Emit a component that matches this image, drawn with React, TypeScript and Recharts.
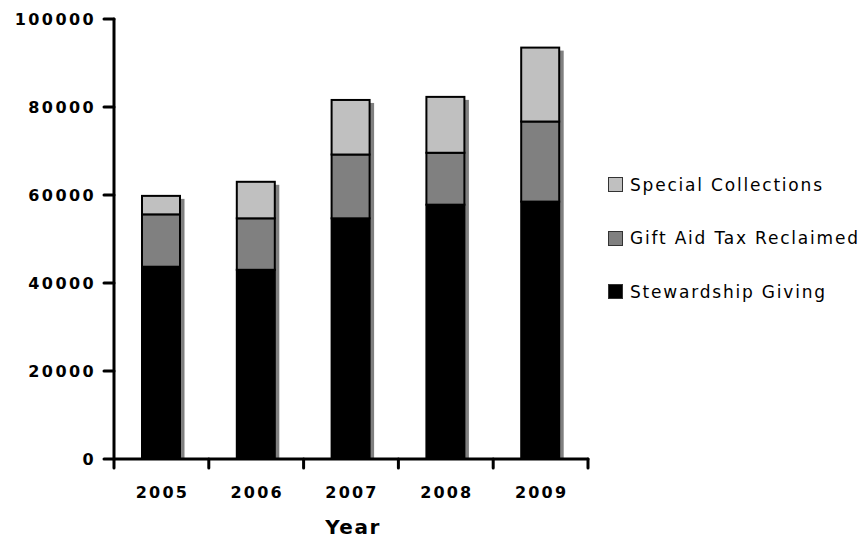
import React from 'react'
import { BarChart, Bar, XAxis, YAxis, Legend } from 'recharts'

// values
const years = ['2005', '2006', '2007', '2008', '2009']
const stewardship = [43700, 43000, 54700, 57800, 58500]
const giftAid = [11900, 11700, 14500, 11800, 18200]
const special = [4200, 8300, 12400, 12700, 16800]
const yTicks = [0, 20000, 40000, 60000, 80000, 100000]

const data = years.map((year, i) => ({
  year,
  stewardship: stewardship[i],
  giftAid: giftAid[i],
  special: special[i],
}))

const FONT = '"DejaVu Sans", Verdana, sans-serif'

const legendItems = [
  { name: 'Special Collections', color: '#c0c0c0' },
  { name: 'Gift Aid Tax Reclaimed', color: '#808080' },
  { name: 'Stewardship Giving', color: '#000000' },
]

// bottom segment also draws the drop shadow for the whole stack
const BottomShape = (props: any) => {
  const { x, y, width, height, payload } = props
  const total = payload.stewardship + payload.giftAid + payload.special
  const perUnit = height / payload.stewardship
  const totalH = total * perUnit
  const bottom = y + height
  return (
    <g>
      <rect x={x + 4.5} y={bottom - totalH + 3} width={width} height={totalH - 3} fill="#808080" />
      <rect x={x} y={y} width={width} height={height} fill="#000" stroke="#000" strokeWidth={2} />
    </g>
  )
}

const SegShape = (props: any) => {
  const { x, y, width, height, fill } = props
  return <rect x={x} y={y} width={width} height={height} fill={fill} stroke="#000" strokeWidth={2} />
}

const YTick = (props: any) => {
  const { x, y, payload } = props
  return (
    <text x={x} y={y} dy={6} textAnchor="end" fontFamily={FONT} fontWeight="bold" fontSize={16}
      letterSpacing={2.4} fill="#000">
      {payload.value}
    </text>
  )
}

// tick marks sit on the category boundaries, labels in the middle
const XTick = (props: any) => {
  const { x, y, payload, index } = props
  const half = payload.offset || 47.4
  const last = index === years.length - 1
  return (
    <g>
      <line x1={x - half} y1={y} x2={x - half} y2={y + 9} stroke="#000" strokeWidth={3} strokeLinecap="round" />
      {last && (
        <line x1={x + half} y1={y} x2={x + half} y2={y + 9} stroke="#000" strokeWidth={3} strokeLinecap="round" />
      )}
      <text x={x + 1} y={y + 39} textAnchor="middle" fontFamily={FONT} fontWeight="bold" fontSize={16}
        letterSpacing={2.2} fill="#000">
        {payload.value}
      </text>
    </g>
  )
}

const LegendContent = () => (
  <div style={{ fontFamily: FONT, fontSize: 17, letterSpacing: 1.8, color: '#000' }}>
    {legendItems.map((item) => (
      <div key={item.name} style={{ display: 'flex', alignItems: 'center', height: 53.5 }}>
        <span style={{ width: 13, height: 13, background: item.color, border: '1px solid #333',
          marginRight: 7, flexShrink: 0 }} />
        <span style={{ whiteSpace: 'nowrap' }}>{item.name}</span>
      </div>
    ))}
  </div>
)

export default function App() {
  return (
    <div style={{ position: 'absolute', left: 0, top: 0, background: '#fff' }}>
      <BarChart width={866} height={539} data={data}
        margin={{ top: 19, right: 278, bottom: 10, left: 14 }}>
        <XAxis dataKey="year" interval={0} height={70} tickSize={0} tickMargin={0} tickLine={false}
          axisLine={{ stroke: '#000', strokeWidth: 3, strokeLinecap: 'round' }}
          tick={<XTick />}
          label={({ viewBox }: any) => (
            <text x={viewBox.x + viewBox.width / 2 + 2} y={viewBox.y + 75} textAnchor="middle"
              fontFamily={FONT} fontWeight="bold" fontSize={20} letterSpacing={1.5} fill="#000">
              Year
            </text>
          )} />
        <YAxis width={100} domain={[0, 100000]} ticks={yTicks} interval={0}
          tickSize={10} tickMargin={8}
          axisLine={{ stroke: '#000', strokeWidth: 3, strokeLinecap: 'round' }}
          tickLine={{ stroke: '#000', strokeWidth: 3, strokeLinecap: 'round' }}
          tick={<YTick />} />
        <Legend layout="vertical" align="center" verticalAlign="middle"
          wrapperStyle={{ left: 608, top: 158, width: 258 }}
          content={<LegendContent />} />
        <Bar dataKey="stewardship" stackId="a" fill="#000000" barSize={38}
          name="Stewardship Giving" shape={<BottomShape />} isAnimationActive={false} />
        <Bar dataKey="giftAid" stackId="a" fill="#808080" barSize={38}
          name="Gift Aid Tax Reclaimed" shape={<SegShape />} isAnimationActive={false} />
        <Bar dataKey="special" stackId="a" fill="#c0c0c0" barSize={38}
          name="Special Collections" shape={<SegShape />} isAnimationActive={false} />
      </BarChart>
    </div>
  )
}
